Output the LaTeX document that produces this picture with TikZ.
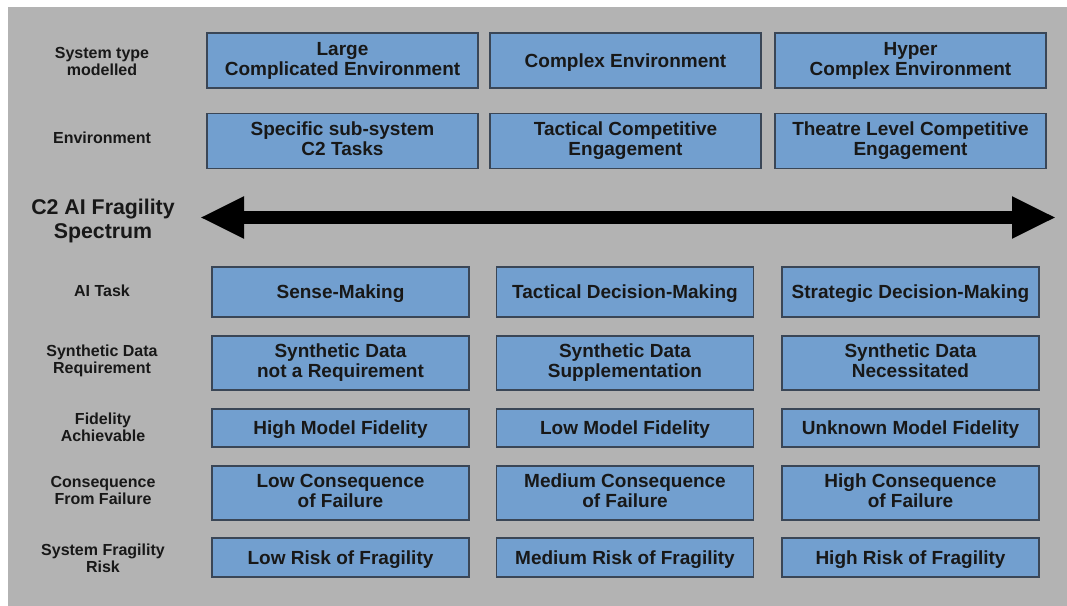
\documentclass[tikz,border=0pt]{standalone}
\usepackage{fontspec}
\setmainfont{Liberation Sans}
\usetikzlibrary{arrows.meta}
\definecolor{hintergrund}{RGB}{179,179,179}
\definecolor{kastenblau}{RGB}{114,159,207}
\definecolor{kastenrand}{RGB}{58,70,86}
\definecolor{schrift}{RGB}{24,24,24}
% Zeilenhoehe wie Ober-/Unterlaenge der Schrift
\newcommand{\zeilenstrut}{\rule[-0.212em]{0pt}{1.117em}}
\tikzset{
	zeile/.style={execute at begin node=\zeilenstrut, execute at end node=\zeilenstrut},
	feld/.style={zeile, draw=kastenrand, fill=kastenblau, line width=1.1pt, inner sep=0pt,
		align=center, text=schrift, font=\bfseries\fontsize{14.25}{15}\selectfont},
	feldoben/.style={feld, minimum width=203.25pt, minimum height=41pt},
	feldunten/.style={feld, minimum width=192.75pt},
	beschriftung/.style={zeile, align=center, text=schrift,
		font=\bfseries\fontsize{12}{12.75}\selectfont}
}
\begin{document}
\begin{tikzpicture}[x=0.75pt, y=-0.75pt]
	% Hintergrund
	\useasboundingbox (0, 0) rectangle (1067, 606);
	\fill[white] (0, 0) rectangle (1067, 606);
	\fill[hintergrund] (8, 7) rectangle (1067, 606);

	% Zeilenbeschriftungen links
	\node[beschriftung] (lblsys) at (102, 63) {System type\\modelled};
	\node[beschriftung] (lblenv) at (102, 137.5) {Environment};
	\node[beschriftung, font=\bfseries\fontsize{16}{18}\selectfont] (lblspec)
		at (103, 221.5) {C2 AI Fragility\\Spectrum};
	\node[beschriftung] (lbltask) at (102, 290.5) {AI Task};
	\node[beschriftung] (lblsyn) at (102, 361) {Synthetic Data\\Requirement};
	\node[beschriftung] (lblfid) at (103, 429) {Fidelity\\Achievable};
	\node[beschriftung] (lblcons) at (103, 492) {Consequence\\From Failure};
	\node[beschriftung] (lblrisk) at (103, 559.5) {System Fragility\\Risk};

	% obere Zeilen
	\foreach \name/\x/\txt in {sysA/342.5/{Large\\Complicated Environment},
		sysB/625.5/{Complex Environment}, sysC/910.5/{Hyper\\Complex Environment}}
		\node[feldoben] (\name) at (\x, 60.5) {\txt};
	\foreach \name/\x/\txt in {envA/342.5/{Specific sub-system\\C2 Tasks},
		envB/625.5/{Tactical Competitive\\Engagement},
		envC/910.5/{Theatre Level Competitive\\Engagement}}
		\node[feldoben] (\name) at (\x, 141) {\txt};

	% Spektrum-Pfeil
	\coordinate (specL) at (200, 217.5);
	\coordinate (specR) at (1056, 217.5);
	\draw[line width=9.75pt,
		{Triangle[length=33pt, width=29.25pt]}-{Triangle[length=33pt, width=29.25pt]}]
		(specL) -- (specR);

	% untere Zeilen
	\foreach \name/\x/\txt in {taskA/340.5/{Sense-Making},
		taskB/625/{Tactical Decision-Making}, taskC/910.5/{Strategic Decision-Making}}
		\node[feldunten, minimum height=37.5pt] (\name) at (\x, 292) {\txt};
	\foreach \name/\x/\txt in {synA/340.5/{Synthetic Data\\not a Requirement},
		synB/625/{Synthetic Data\\Supplementation}, synC/910.5/{Synthetic Data\\Necessitated}}
		\node[feldunten, minimum height=40.5pt] (\name) at (\x, 363) {\txt};
	\foreach \name/\x/\txt in {fidA/340.5/{High Model Fidelity},
		fidB/625/{Low Model Fidelity}, fidC/910.5/{Unknown Model Fidelity}}
		\node[feldunten, minimum height=28.5pt] (\name) at (\x, 428) {\txt};
	\foreach \name/\x/\txt in {consA/340.5/{Low Consequence\\of Failure},
		consB/625/{Medium Consequence\\of Failure}, consC/910.5/{High Consequence\\of Failure}}
		\node[feldunten, minimum height=40.5pt] (\name) at (\x, 493) {\txt};
	\foreach \name/\x/\txt in {riskA/340.5/{Low Risk of Fragility},
		riskB/625/{Medium Risk of Fragility}, riskC/910.5/{High Risk of Fragility}}
		\node[feldunten, minimum height=29.25pt] (\name) at (\x, 557.5) {\txt};
\end{tikzpicture}
\end{document}
